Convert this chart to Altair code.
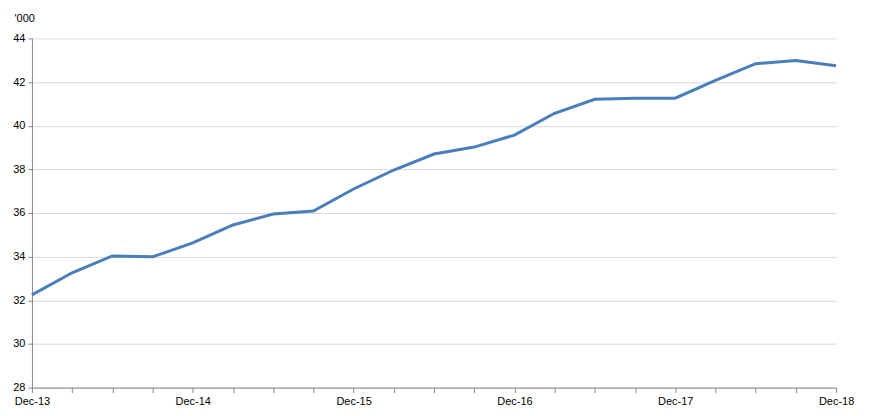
import altair as alt
import pandas as pd

quarters = ["Dec-13", "Mar-14", "Jun-14", "Sep-14", "Dec-14", "Mar-15", "Jun-15", "Sep-15",
            "Dec-15", "Mar-16", "Jun-16", "Sep-16", "Dec-16", "Mar-17", "Jun-17", "Sep-17",
            "Dec-17", "Mar-18", "Jun-18", "Sep-18", "Dec-18"]
values = [32.25, 33.26, 34.03, 33.99, 34.63, 35.45, 35.95, 36.09, 37.10, 37.97, 38.70,
          39.02, 39.57, 40.57, 41.21, 41.26, 41.26, 42.08, 42.84, 42.99, 42.75]

df = pd.DataFrame({"idx": list(range(len(quarters))), "q": quarters, "v": values})

label_expr = "datum.value % 4 == 0 ? " + str(quarters) + "[datum.value] : ''"

chart = alt.Chart(df).mark_line(color="#4A7EBB", strokeWidth=3).encode(
    x=alt.X("idx:Q", scale=alt.Scale(domain=[0, 20], nice=False, zero=False),
            axis=alt.Axis(title=None, values=list(range(21)), labelExpr=label_expr,
                          grid=False, domainColor="#888888", tickColor="#888888",
                          tickSize=5, labelFont="Liberation Sans", labelFontSize=11,
                          labelColor="#000000", labelPadding=3, labelOverlap=False,
                          labelFlush=False)),
    y=alt.Y("v:Q", scale=alt.Scale(domain=[28, 44], nice=False, zero=False),
            axis=alt.Axis(title="'000", titleAngle=0, titleAlign="left", titleBaseline="middle",
                          titleX=-18, titleY=-20, titleFont="Liberation Sans", titleFontSize=11,
                          titleFontWeight="normal", titleColor="#000000",
                          values=list(range(28, 45, 2)), grid=True, gridColor="#d9d9d9",
                          domainColor="#888888", tickColor="#888888", tickSize=4,
                          labelFont="Liberation Sans", labelFontSize=11, labelColor="#000000",
                          labelPadding=3)),
).properties(
    width=806, height=350,
    autosize=alt.AutoSizeParams(type="none"),
    padding={"left": 24, "top": 30, "right": 25, "bottom": 25},
).configure_view(stroke=None)

chart.save("out.html", embed_options={"renderer": "svg", "actions": False})
